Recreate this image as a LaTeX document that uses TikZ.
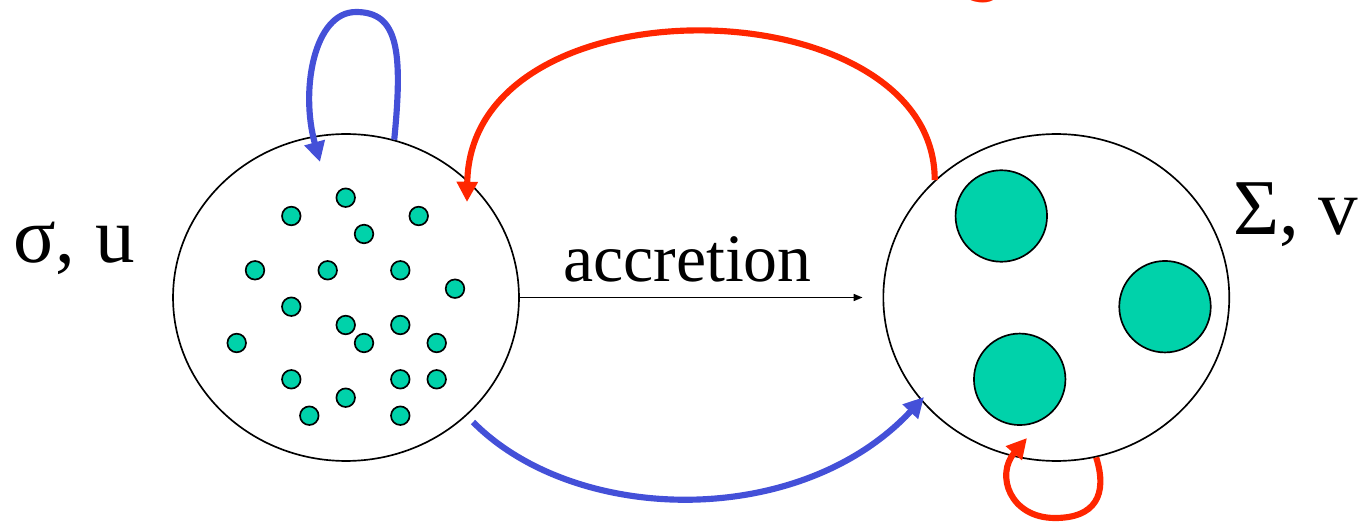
\documentclass[tikz,border=0pt]{standalone}
\usepackage{fontspec}
\setmainfont{Liberation Serif}
\usetikzlibrary{arrows.meta,shapes.geometric}
\definecolor{loopblue}{RGB}{68,80,216}
\definecolor{loopred}{RGB}{255,38,0}
\definecolor{grain}{RGB}{0,210,170}
\begin{document}
\begin{tikzpicture}[x=0.02cm,y=-0.02cm,
  cloud/.style={draw,ellipse,minimum width=6.92cm,minimum height=6.54cm,inner sep=0pt,line width=0.95pt},
  smallgrain/.style={circle,draw,fill=grain,minimum size=0.372cm,inner sep=0pt,line width=0.95pt},
  biggrain/.style={circle,draw,fill=grain,minimum size=1.83cm,inner sep=0pt,line width=0.95pt},
  flow/.style={line width=3.5pt,-{Triangle[length=11.5pt,width=11.5pt]}},
  varlabel/.style={inner sep=0pt,anchor=base west,font=\fontsize{45}{50}\selectfont}
]
\useasboundingbox (0,0) rectangle (1362,523);
\clip (0,0) rectangle (1362,523);

% clouds
\node[cloud] (L) at (346,297.5) {};
\node[cloud] (R) at (1056.3,297.5) {};

% small grains
\foreach \i/\p in {1/{(345.7,197.7)},2/{(291.3,216)},3/{(418.7,216)},4/{(364,234)},
  5/{(255,270.3)},6/{(327.7,270.3)},7/{(400.3,270.3)},8/{(455,288.7)},
  9/{(291.3,306.7)},10/{(345.7,325)},11/{(400.3,325)},12/{(236.7,343)},
  13/{(364,343)},14/{(436.7,343)},15/{(291.3,379.3)},16/{(400.3,379.3)},
  17/{(436.7,379.3)},18/{(345.7,397.7)},19/{(309.3,415.7)},20/{(400.3,415.7)}}
  \node[smallgrain] (s\i) at \p {};

% big grains
\node[biggrain] (b1) at (1001.3,216) {};
\node[biggrain] (b2) at (1165,306.7) {};
\node[biggrain] (b3) at (1019.7,379.3) {};

% labels
\node[varlabel] (lsig) at (13,263) {σ, u};
\node[varlabel] (rsig) at (1233,235) {Σ, v};
\node[inner sep=0pt,anchor=base,font=\fontsize{38.6}{44}\selectfont] (acc) at (687.4,281.7) {accretion};
\node[inner sep=0pt,anchor=base,text=loopred,font=\fontsize{44}{50}\selectfont\itshape] (gfrag) at (990,-13) {g};

% accretion arrow
\draw[line width=0.75pt,-{Triangle[length=5pt,width=4pt]},shorten >=0.4cm] (L.east) -- (R.west);

% tips and free ends
\coordinate (btTip) at (320,162);
\coordinate (rtTip) at (467,202);
\coordinate (bbStart) at (473,422);
\coordinate (bbTip) at (924,397);
\coordinate (rbTip) at (1027,438);

% blue self loop on top of L
\draw[flow,loopblue] (L.73.6) .. controls (403,50) and (398,12) .. (356,12)
  .. controls (314,12) and (300,90) .. (btTip);

% red arc from R to L
\draw[flow,loopred] (R.136.4) .. controls (935,-15) and (470,-25) .. (rtTip);

% blue arc from L to R (bottom)
\draw[flow,loopblue] (bbStart) .. controls (575,525) and (800,530) .. (bbTip);

% red self loop below R
\draw[flow,loopred] (R.-76.4) .. controls (1108,495) and (1095,518) .. (1055,518)
  .. controls (1010,518) and (995,475) .. (rbTip);
\end{tikzpicture}
\end{document}
